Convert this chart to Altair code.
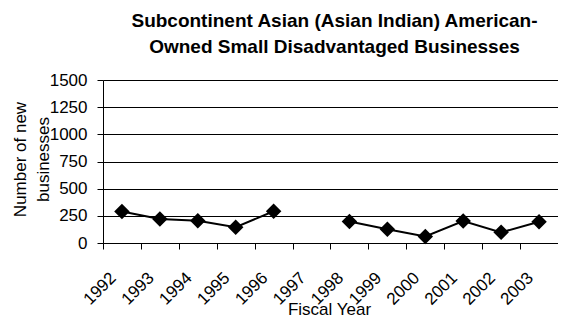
import altair as alt
import pandas as pd

years = ["1992", "1993", "1994", "1995", "1996", "1997", "1998",
         "1999", "2000", "2001", "2002", "2003"]
values = [290, 220, 205, 145, 292, None, 198, 127, 60, 202, 98, 195]
segments = [1, 1, 1, 1, 1, 1, 2, 2, 2, 2, 2, 2]
y_ticks = [0, 250, 500, 750, 1000, 1250, 1500]

df = pd.DataFrame({"year": years, "value": values, "segment": segments})
df = df.dropna()

FONT = "Liberation Sans"
W = 455

x = alt.X(
    "year:O",
    scale=alt.Scale(type="band", domain=years, paddingInner=0, paddingOuter=0),
    axis=alt.Axis(
        title="Fiscal Year",
        titleFont=FONT, titleFontSize=17, titleFontWeight="normal", titleColor="#000",
        titleX=226, titleY=71, titleAlign="center", titleBaseline="alphabetic",
        labelAngle=-45, labelAlign="right", labelBaseline="middle",
        labelFont=FONT, labelFontSize=17, labelColor="#000",
        labelPadding=26, labelOffset=-9,
        tickBand="extent", tickSize=6, tickColor="#000",
        domainColor="#000", grid=False, labelOverlap=False,
    ),
)
y = alt.Y(
    "value:Q",
    scale=alt.Scale(domain=[0, 1500], nice=False, zero=True),
    axis=alt.Axis(
        title=["Number of new", "businesses"],
        titleFont=FONT, titleFontSize=17, titleFontWeight="normal", titleColor="#000",
        titleAngle=270, titleX=-78, titleY=79, titleAlign="center",
        titleBaseline="alphabetic", titleLineHeight=23,
        values=y_ticks, format="d", labelFont=FONT, labelFontSize=17, labelColor="#000",
        labelPadding=10, tickSize=6, tickColor="#000",
        domainColor="#000", grid=True, gridColor="#000", gridWidth=1,
    ),
)

line = alt.Chart(df).mark_line(color="#000", strokeWidth=2).encode(
    x=x, y=y, detail="segment:N"
)
pts = alt.Chart(df).mark_point(
    shape="diamond", filled=True, color="#000", size=240, opacity=1
).encode(x=x, y=y)

chart = (
    alt.layer(line, pts)
    .properties(
        width=W,
        height=163,
        autosize=alt.AutoSizeParams(type="none"),
        padding={"left": 95, "top": 72, "right": 0, "bottom": 72},
        title=alt.TitleParams(
            text=["Subcontinent Asian (Asian Indian) American-",
                  "Owned Small Disadvantaged Businesses"],
            font=FONT, fontSize=19, fontWeight="bold", color="#000",
            anchor="middle", frame="group", lineHeight=26, offset=14, dx=4,
        ),
        background="white",
    )
    .configure_view(strokeWidth=0)
)

chart.save("out.html", embed_options={"renderer": "svg", "actions": False})
